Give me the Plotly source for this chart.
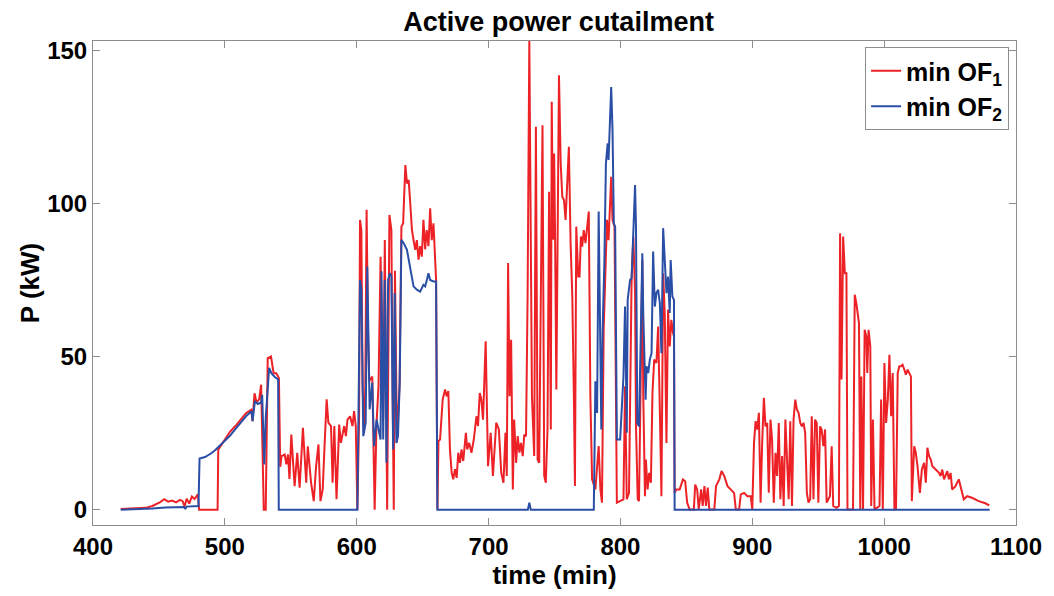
import plotly.graph_objects as go

# ---- data ----
t_of1 = [421, 430, 440, 445, 448, 451, 454, 457, 460, 463, 466, 468, 469.5, 471, 473, 475, 477, 479.5, 480.5,
         494.5, 495, 500, 504, 508, 513, 516, 520, 521, 522.5, 524, 526, 527.5, 529.5, 531, 532.5, 535, 537, 539, 541,
         542, 543, 545.4, 546.6, 547.9, 549, 550.4, 552.9, 554.9, 556.7, 559.2, 561.7, 562.9, 565.4, 567.4, 569.2,
         571, 572.5, 574.2, 575.5, 577.2, 578.5, 580.5, 581.7, 583, 584.7, 586.7, 588, 590.5, 591.8, 593, 595,
         596.8, 598, 599.3, 600.5,
         601.8, 602.5, 603.5, 604.5, 605.5, 606.5, 607.5, 608.5, 609.5, 611.8, 612.6, 613.6, 615, 616.5, 618.1,
         619.3, 620.1, 621.3, 622.5, 623.1, 624.8, 626.3, 627.2, 628.1, 629, 630.5, 632.5, 633.9, 635.2, 636.9,
         638.1, 639.4, 640.6, 641.9, 643.1, 644.4, 645.6, 646.9, 648.1, 649.4, 650.6, 651.9, 653.1, 654.4, 655.7,
         656.9, 658.2, 659.4, 660.2, 661.2,
         662, 663.2, 665.2, 667, 668.2, 669.5, 670.7, 672, 673.2, 674.5, 675.8, 677, 678.3, 679.5, 680.8, 682.8,
         683.8, 685.3, 687, 688.8, 690.8, 692, 693.3, 694.5, 695.8, 697.8, 699.6, 701.6, 703.3, 705.8, 707.8,
         709.6, 711.3, 712.8, 713.8, 714.8, 715.9, 717.1, 718.4, 719.4, 720.9, 722.1, 723.4, 724.6, 725.9, 727.1,
         728.4, 729.6, 730.9, 732.9, 734.6, 735.9, 737.2, 738.4, 740.9, 742.2, 743.4, 744.7, 745.9, 747.2, 747.9,
         748.9, 749.7, 750.4, 751.4, 753.4, 754.7, 755.9, 757.2, 758.4, 759.7, 760.9, 762.2, 763.5, 764.7, 765.5,
         766.5, 768, 769, 770, 771, 772.2, 773.5, 774.7, 776, 777.2, 778.5, 781, 783.5, 784.8, 786, 787.3,
         788.5, 789.8, 791, 793, 794, 795.5, 797.3, 799.8, 802.3, 803.5, 804.8, 806.5, 808.5, 809.8, 811.1,
         811.8, 813.1, 814.1, 815.3, 816.6, 817.3, 818.6, 819.3, 820.6, 821.8, 823.1, 824.3, 825.6, 827.3,
         828.6, 829.9, 831.1, 832.4, 833.6, 834.9, 836.1, 837.4, 838.6, 839.9, 840.6, 841.1,
         842.4, 844.9, 847.4, 849.1, 850.6, 852.4, 855.7, 856.7, 858.2, 859.4, 861.2, 862.4, 863.7, 864.9, 866.2,
         867.4, 871.2, 872.5, 873.7, 875, 876.7, 878.7, 881.2, 883.7, 886.2, 887.5, 890, 891.3, 893.8, 896.3,
         898.8, 900, 901.3, 902.5, 903.8, 905, 906.3, 907.5, 908.8, 910, 911.3, 912.5, 913.8, 915, 916.3, 917.6,
         918.8, 920.1, 921.3, 922.6, 923.8, 925.1, 926.3, 927.6, 928.8, 930.1, 931.3, 932.6, 933.8, 935.1, 936.4,
         937.6, 938.9, 940.1, 941.4, 942.6, 943.9, 945.1, 946.4, 947.6, 948.9, 950.1, 951.4, 952.6, 953.9, 955.2,
         956.4, 957.7, 958.9, 960.2, 961.4, 963.9, 965.7, 966.6,
         967.7, 968.9, 970.2, 971.4, 972.2, 976.4, 977.7, 978.9, 980.2, 980.9, 981.9, 982.7, 984, 985.2, 986.5,
         987.2, 988.2, 989.5, 990.2, 991.5, 992.7, 996.5, 997.7, 999, 1000.2, 1001.5, 1002.8, 1004, 1005.3, 1006.5,
         1007.8, 1009, 1010.3, 1011.5, 1012.8, 1014, 1015.3, 1016.5, 1017.8, 1019, 1020.3, 1021, 1022.8, 1024,
         1025.3, 1027.1, 1028.6, 1030.3, 1031.6, 1032.8, 1034.1, 1035.3, 1036.6, 1039.1, 1041.6, 1042.8, 1044.1,
         1045.4, 1046.6, 1047.9, 1049.1, 1050.4, 1051.6, 1054.1, 1056.6, 1057.9, 1060.4, 1062.9, 1066.6, 1071.7,
         1076.7, 1079.7]
p_of1 = [0.2, 0.4, 0.6, 1.2, 1.8, 2.5, 3.4, 2.6, 3.0, 2.4, 3.2, 2.8, 1.0, 3.6, 2.0, 4.3, 3.5, 5.0, 0,
         0, 19.6, 23, 25.5, 27.3, 30, 31.5, 32.6, 28.9, 38, 35, 36, 40.8, 0, 0, 49.5, 50, 44.5, 44.5, 43,
         14, 17.5, 18, 14.8, 18, 10, 24.5, 7.7, 18.6, 7.2, 26.7, 8.8, 20.7, 8.8, 2.8, 14.2,
         21.3, 2.8, 6.6, 19.7, 36, 28.4, 27.3, 8.8, 27.3, 3.4, 27.8, 21.8, 27.3, 24, 29.4, 30.5,
         27.3, 32.2, 27.3, 0,
         30, 94.6, 91.3, 40, 25, 40, 97.9, 60, 42, 43.5, 25, 0, 28, 40, 82.6,
         50, 30, 88, 40, 0, 96.2, 91.3, 40, 0, 78, 22, 41, 92.4, 93.5, 112.5,
         106.5, 107.6, 100, 91.3, 88, 84.8, 88, 81.6, 86, 82.6, 94.6, 85, 91.3, 86, 98.4,
         88, 93.5, 84.8, 75, 0,
         22.4, 22.9, 36, 39.2, 37, 38.7, 19.7, 12.1, 9.9, 13.2, 10.4, 18.6, 15.3, 19.7, 15.9, 25.1,
         19.7, 21.8, 18.6, 22.9, 30.5, 27.3, 38.1, 36, 29.4, 55, 14.2, 25.1, 11, 28.4, 26.2,
         12.1, 8.8, 25.1, 11, 80.5, 37, 55.5, 6.6, 29.4, 15.3, 24, 18.6, 21.8, 17.5, 24.5,
         24, 69.6, 153.2, 37, 17.5, 125, 16.4, 15.3, 125.5, 11, 8.8, 26.2, 103.8, 26.2, 133.2,
         88.1, 116.3, 91.3, 39.2, 141.8, 113, 102.2, 101.1, 94.6, 109.8, 118.5, 87, 69.6, 37, 7.7,
         92.4, 76.1, 76.1, 89.2, 85.9, 91.3, 87, 91.3, 97.3, 37, 9.9, 6.6, 20.8, 6.6, 2.3, 58.8,
         80.5, 94.6, 88, 108.7, 94.6, 92.4, 2.3, 2.8, 3.4, 40.3, 3.4, 5.5, 76.1, 89.1, 70.7,
         27.2, 3.4, 2.8, 49, 81.5, 38.1, 4.4, 16.4, 6.6, 12, 8.8, 38.1, 49, 47.9,
         59.8, 32.7, 4.4, 77.2, 64.2, 21.8, 65.3, 53.3, 62, 57.7, 56.6, 5.5,
         6.6, 6.6, 9.9, 9.3, 2.3, 0.1, 0.1, 8.2, 6.6, 0.1, 6.6, 1.2, 7.7, 1.2, 7.2,
         0.1, 0.1, 7.7, 8.8, 9.9, 12.6, 11, 7.7, 6.6, 5.5, 0.1, 0.1, 5, 5.5, 4.4,
         4.4, 0.1, 21.8, 28.9, 26.2, 31.6, 2.3, 21.8, 36.5, 27.2, 28.3, 5.5, 29.4, 22.9, 2.3, 18.6,
         11, 28.3, 3.4, 17.5, 1.2, 29.4, 16.4, 3.4, 28.9, 1.2, 29.4, 35.9, 32.7, 31.6, 28.3,
         27.2, 28.3, 25.1, 5.5, 2.3, 3.4, 30.5, 3.4, 29.4, 28.3, 2.3, 27.2, 26.2, 20.7, 26.2,
         2.3, 3.4, 4.4, 20.7, 1.2, 0.6, 1.2, 90.2,
         42.5, 89.2, 77.2, 77.2, 0.1, 0.1, 70.2, 67.4, 61.5, 60.9, 0.1, 43.5, 0.1, 58.7, 56.6,
         44.6, 58.7, 53.3, 1.2, 29.4, 0.1, 1.2, 36, 0.1, 47.9, 28.3, 36, 50.6, 30.5, 44.6,
         0.1, 0.1, 44.6, 46.8, 46.8, 47.3, 45.7, 44.1, 45.7, 44.6, 43.5, 2.8, 20.7, 18.6,
         14.2, 5.5, 13.1, 15.3, 8.8, 20.2, 17.5, 16.4, 14.2, 13.1, 12, 11, 13.1,
         9.9, 11.5, 12.6, 9.9, 12, 6.6, 7.7, 9.9, 7.7, 3.4, 4.4, 3.9, 2.8,
         2.1, 1.4]

t_of2 = [421, 440, 445, 455, 465, 469, 470, 471, 480, 480.8, 485, 490, 493, 497, 500.3, 504, 507.8, 512.8,
         516, 520.3, 521, 522.8, 525, 527.5, 528.3, 529.9, 531, 533.6, 535.4, 537.9, 540.4, 540.9,
         600.5, 602.5, 603.5, 605, 606.8, 608, 609.8, 611.8, 613.1, 615.1, 616.8, 618.1, 618.8, 620.1, 621.3,
         622.6, 623.8, 625.1, 626.3, 627.6, 628.8, 630.1, 631.3, 632.6, 633.9, 635.6, 638.1, 640.6, 643.1,
         645.6, 648.1, 650.6, 651.9, 653.2, 654.4, 655.7, 658.2, 660.2, 661.2,
         729.8, 730.9, 732, 779.8,
         781, 782.3, 783.5, 784.8, 785.5, 786.5, 787.8, 789, 790.3, 791, 791.8, 793, 794, 795, 796,
         797.3, 799.8, 801, 802.3, 803.5, 804.8, 805.5, 807.3, 808.5, 809.8, 811.1, 811.8, 812.8, 814.1,
         815.3, 816.6, 817.3, 818.1, 819.1, 819.8, 821.1, 822.3, 823.6, 824.8, 826.1, 827.3, 828.6, 829.9,
         831.1, 832.4, 833.6, 834.9, 836.1, 837.4, 838.1, 839.4, 840.6, 841.1, 1080]
p_of2 = [0, 0.2, 0.4, 0.7, 0.9, 0.9, 0.2, 1.0, 1.2, 16.7, 17.2, 18.5, 19.6, 21.2, 22.4, 24.2, 26.2, 28.9,
         30.5, 32.1, 28.9, 35.4, 34.5, 35, 37.5, 14.8, 30, 46.3, 44.5, 43.3, 42.5, 0,
         0, 75, 71.8, 24, 28.4, 79.4, 32.7, 41.4, 20.7, 29.4, 25.1, 22.9, 77.8, 22.9, 75,
         15.3, 75, 77.2, 76.1, 19.7, 70.7, 21.8, 24, 41.4, 88.1, 87, 84.8, 78.3, 72.9,
         71.8, 71.2, 73.4, 72.9, 75, 77.2, 75, 74.5, 74.5, 0,
         0, 2.3, 0, 0,
         41.9, 31.6, 97.3, 58.8, 26.2, 58.8, 80.5, 113, 119.6, 114.2, 123.9, 138, 123.9, 93.5, 92.4,
         22.9, 22.9, 32.7, 43.5, 66.3, 25.1, 68.5, 75, 75.6, 92.4, 106, 92.4, 28.3, 27.2,
         59.8, 83.7, 64.2, 54.4, 35.9, 46.8, 44.6, 49, 51.1, 84.3, 66.3, 70.7, 71.8, 67.4,
         51.1, 91.9, 79.4, 70.7, 76.1, 64.2, 81.5, 69.6, 68.5, 0, 0]

x_ticks = [400, 500, 600, 700, 800, 900, 1000, 1100]
y_ticks = [0, 50, 100, 150]

RED = "#EC2227"
BLUE = "#2A4EA6"
FONT = "Liberation Sans"

fig = go.Figure()
fig.add_trace(go.Scatter(x=t_of1, y=p_of1, mode="lines", name="min OF<sub>1</sub>",
                         line=dict(color=RED, width=2)))
fig.add_trace(go.Scatter(x=t_of2, y=p_of2, mode="lines", name="min OF<sub>2</sub>",
                         line=dict(color=BLUE, width=2)))

axis_common = dict(showline=True, linecolor="#8c8c8c", linewidth=1, mirror="ticks",
                   ticks="inside", ticklen=7, tickcolor="#8c8c8c", showgrid=False, zeroline=False,
                   tickfont=dict(family=FONT, size=24, color="black", weight="bold"))

fig.update_layout(
    width=1054, height=596,
    margin=dict(l=93, r=30, t=41, b=70),
    paper_bgcolor="white", plot_bgcolor="white",
    font=dict(family=FONT, color="black"),
    title=dict(text="Active power cutailment", x=0.53, xanchor="center", y=1 - 22 / 596, yanchor="middle",
               yref="container", font=dict(family=FONT, size=27, color="black", weight="bold")),
    xaxis=dict(range=[400, 1100], tickvals=x_ticks, **axis_common,
               title=dict(text="time (min)", standoff=6,
                          font=dict(family=FONT, size=26, color="black", weight="bold"))),
    yaxis=dict(range=[-5, 153], tickvals=y_ticks, **axis_common,
               title=dict(text="P (kW)", standoff=0,
                          font=dict(family=FONT, size=26, color="black", weight="bold"))),
    legend=dict(x=0.9925, y=0.9876, xanchor="right", yanchor="top",
                bgcolor="white", bordercolor="#8c8c8c", borderwidth=1,
                font=dict(family=FONT, size=25, color="black", weight="bold"),
                tracegroupgap=0, itemwidth=30),
    showlegend=True,
)

fig.write_html("out.html")
